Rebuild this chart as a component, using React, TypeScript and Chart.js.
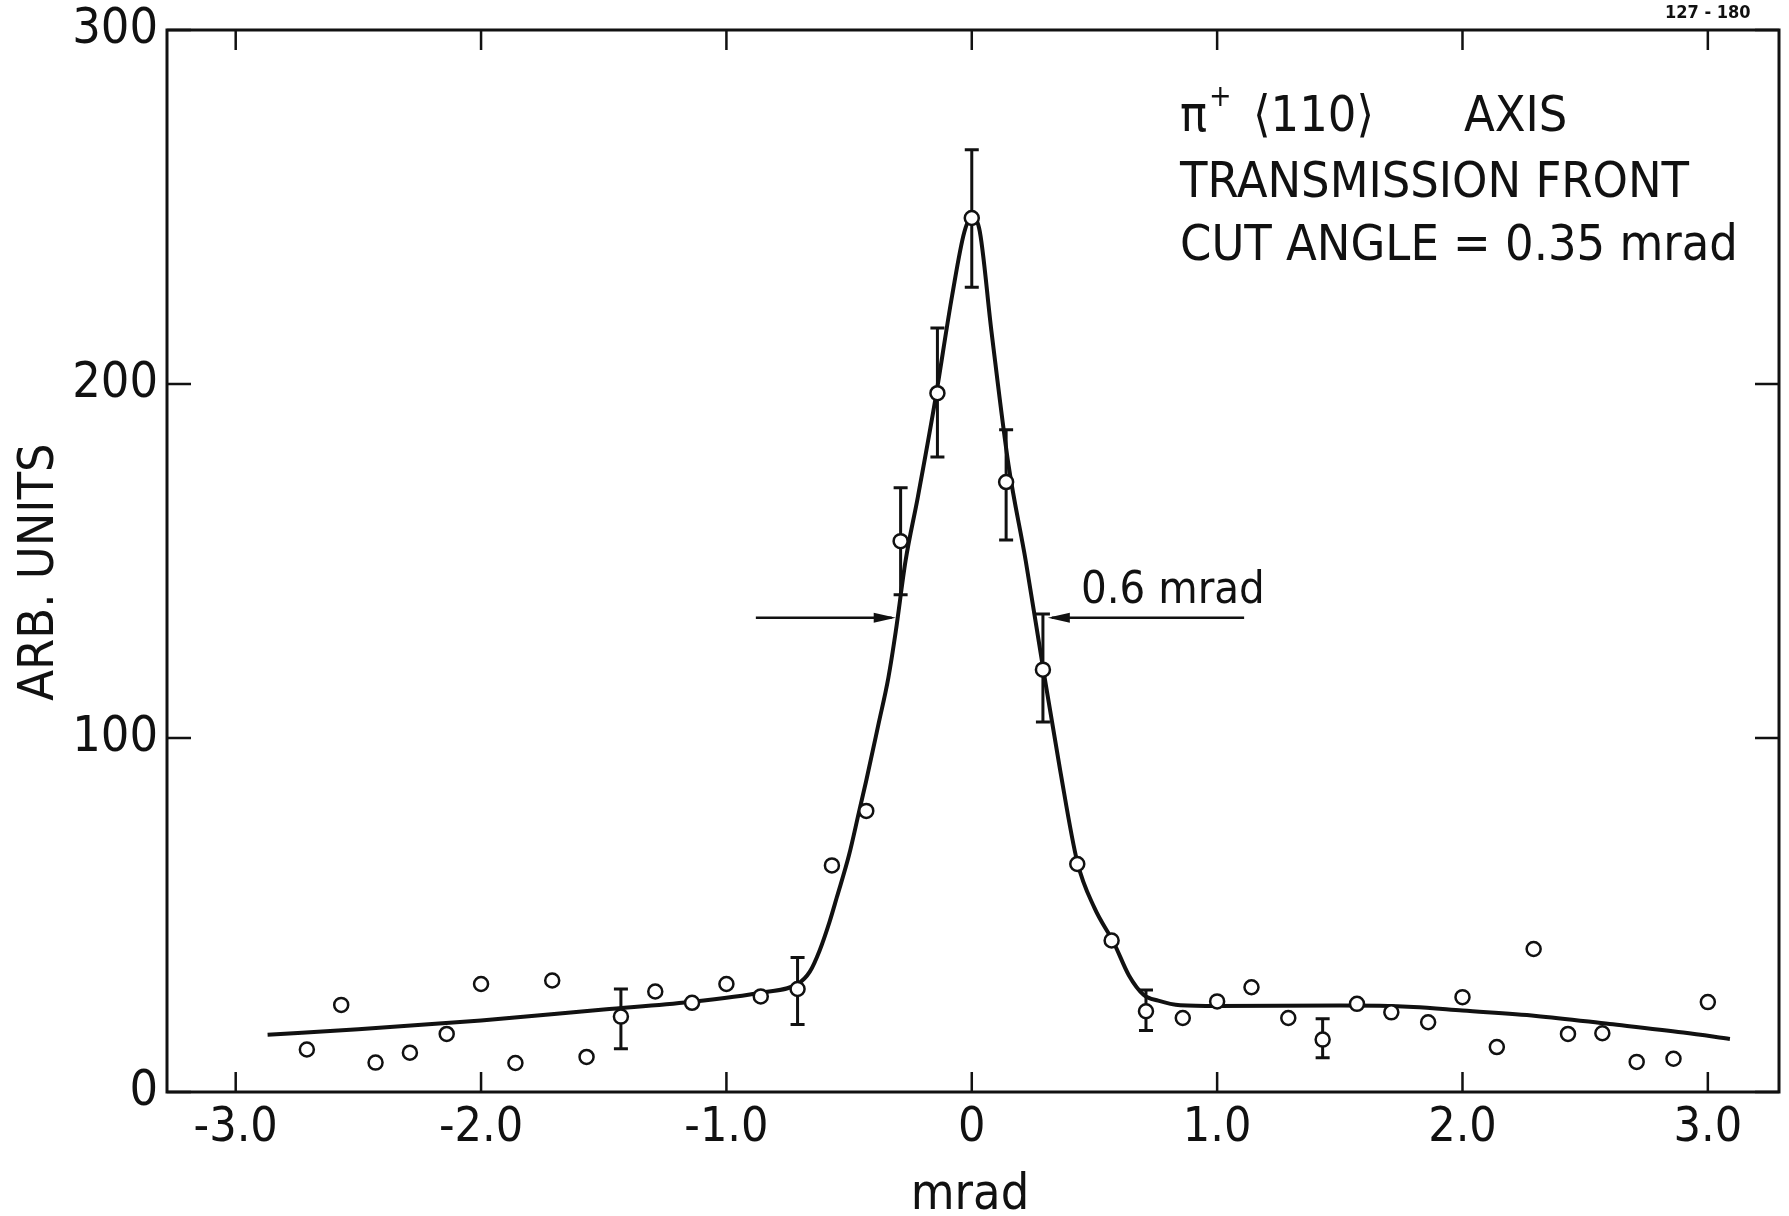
import React, { useEffect, useRef } from "react";
import { Chart, registerables } from "chart.js";

Chart.register(...registerables);

// Measured data points (mrad, arb. units)
const pointX = [-2.71, -2.57, -2.43, -2.29, -2.14, -2.0, -1.86, -1.71, -1.57, -1.43, -1.29, -1.14, -1.0, -0.86, -0.71, -0.57, -0.43, -0.29, -0.14, 0.0, 0.14, 0.29, 0.43, 0.57, 0.71, 0.86, 1.0, 1.14, 1.29, 1.43, 1.57, 1.71, 1.86, 2.0, 2.14, 2.29, 2.43, 2.57, 2.71, 2.86, 3.0];
const pointY = [12.0, 24.6, 8.3, 11.1, 16.4, 30.5, 8.2, 31.5, 9.9, 21.3, 28.4, 25.2, 30.5, 27.0, 29.1, 64.0, 79.4, 155.6, 197.4, 246.9, 172.3, 119.3, 64.4, 42.8, 22.8, 20.9, 25.6, 29.6, 20.9, 14.8, 24.9, 22.5, 19.7, 26.8, 12.7, 40.4, 16.4, 16.6, 8.5, 9.4, 25.4];

// Error bars
const errX = [-1.43, -0.71, -0.29, -0.14, 0.0, 0.14, 0.29, 0.71, 1.43];
const errLow = [12.2, 19.1, 140.5, 179.4, 227.3, 155.9, 104.5, 17.4, 9.7];
const errHigh = [29.1, 38.0, 170.7, 215.8, 266.2, 187.1, 135.0, 28.8, 20.7];

// Fitted curve
const curveX = [-2.87, -2.5, -2.0, -1.5, -1.15, -0.85, -0.71, -0.66, -0.62, -0.58, -0.55, -0.5, -0.46, -0.43, -0.38, -0.34, -0.31, -0.27, -0.22, -0.15, -0.08, -0.03, 0.0, 0.03, 0.08, 0.15, 0.22, 0.29, 0.36, 0.43, 0.5, 0.58, 0.64, 0.7, 0.76, 0.85, 1.0, 1.5, 1.8, 2.0, 2.3, 2.6, 2.9, 3.09];
const curveY = [16.2, 17.7, 20.2, 23.3, 25.4, 28.2, 30.5, 34, 40, 48, 55, 67, 79, 88, 104, 117, 130, 150, 168, 195, 225, 243, 247, 244, 215, 177, 150, 120, 91, 65, 52, 42, 33, 27.5, 25.8, 24.5, 24.3, 24.4, 24, 23, 21.5, 19.2, 16.8, 15];

// Axes
const xTickValues = [-3, -2, -1, 0, 1, 2, 3];
const yTickValues = [0, 100, 200, 300];
const xRange = [-3.28, 3.29];
const yRange = [0, 300];
const xTitle = "mrad";
const yTitle = "ARB. UNITS";

// Annotations
const titleLine1a = "π";
const titleLine1sup = "+";
const titleLine1b = "⟨110⟩";
const titleLine1c = "AXIS";
const titleLine2 = "TRANSMISSION FRONT";
const titleLine3 = "CUT ANGLE = 0.35 mrad";
const fwhmLabel = "0.6 mrad";
const fwhmLevel = 134;
const fwhmEdges = [-0.31, 0.31];
const fwhmTails = [-0.88, 1.11];
const figId = "127 - 180";

const INK = "#111111";
const FONT = "'DejaVu Sans Condensed', 'DejaVu Sans', sans-serif";

const decor = {
  id: "decor",
  beforeDatasetsDraw(chart: any) {
    const { ctx, scales } = chart;
    const x = scales.x;
    const y = scales.y;
    ctx.save();
    ctx.strokeStyle = INK;
    ctx.lineWidth = 3;
    ctx.beginPath();
    errX.forEach((v, i) => {
      const px = x.getPixelForValue(v);
      const lo = y.getPixelForValue(errLow[i]);
      const hi = y.getPixelForValue(errHigh[i]);
      ctx.moveTo(px, lo);
      ctx.lineTo(px, hi);
      ctx.moveTo(px - 7, lo);
      ctx.lineTo(px + 7, lo);
      ctx.moveTo(px - 7, hi);
      ctx.lineTo(px + 7, hi);
    });
    ctx.stroke();
    ctx.restore();
  },
  afterDraw(chart: any) {
    const { ctx, chartArea: a, scales } = chart;
    const x = scales.x;
    const y = scales.y;
    ctx.save();
    ctx.strokeStyle = INK;
    ctx.fillStyle = INK;
    ctx.lineWidth = 3;
    ctx.strokeRect(a.left, a.top, a.right - a.left, a.bottom - a.top);
    ctx.lineWidth = 2.5;
    ctx.beginPath();
    xTickValues.forEach((v) => {
      const px = x.getPixelForValue(v);
      ctx.moveTo(px, a.bottom);
      ctx.lineTo(px, a.bottom - 20);
      ctx.moveTo(px, a.top);
      ctx.lineTo(px, a.top + 20);
    });
    yTickValues.forEach((v) => {
      const py = y.getPixelForValue(v);
      ctx.moveTo(a.left, py);
      ctx.lineTo(a.left + 24, py);
      ctx.moveTo(a.right, py);
      ctx.lineTo(a.right - 24, py);
    });
    ctx.stroke();

    // FWHM arrows
    const ay = y.getPixelForValue(fwhmLevel);
    const lTip = x.getPixelForValue(fwhmEdges[0]);
    const rTip = x.getPixelForValue(fwhmEdges[1]);
    const lTail = x.getPixelForValue(fwhmTails[0]);
    const rTail = x.getPixelForValue(fwhmTails[1]);
    ctx.lineWidth = 2.5;
    ctx.beginPath();
    ctx.moveTo(lTail, ay);
    ctx.lineTo(lTip - 4, ay);
    ctx.moveTo(rTail, ay);
    ctx.lineTo(rTip + 4, ay);
    ctx.stroke();
    ctx.beginPath();
    ctx.moveTo(lTip, ay);
    ctx.lineTo(lTip - 22, ay - 5);
    ctx.lineTo(lTip - 22, ay + 5);
    ctx.closePath();
    ctx.moveTo(rTip, ay);
    ctx.lineTo(rTip + 22, ay - 5);
    ctx.lineTo(rTip + 22, ay + 5);
    ctx.closePath();
    ctx.fill();

    // Texts
    ctx.textBaseline = "middle";
    ctx.textAlign = "left";
    ctx.font = `50px ${FONT}`;
    ctx.fillText(titleLine1a, 1180, 118);
    ctx.font = `30px ${FONT}`;
    ctx.fillText(titleLine1sup, 1209, 98);
    ctx.font = `50px ${FONT}`;
    ctx.fillText(titleLine1b, 1253, 118);
    ctx.fillText(titleLine1c, 1464, 118);
    ctx.fillText(titleLine2, 1180, 184);
    ctx.fillText(titleLine3, 1180, 247);
    ctx.font = `45px ${FONT}`;
    ctx.fillText(fwhmLabel, 1081, 591);

    ctx.font = `bold 18px ${FONT}`;
    ctx.fillText(figId, 1665, 13);

    ctx.font = `50px ${FONT}`;
    ctx.textAlign = "center";
    ctx.fillText(xTitle, 970, 1196);
    ctx.translate(40, 572);
    ctx.rotate(-Math.PI / 2);
    ctx.fillText(yTitle, 0, 0);
    ctx.restore();
  },
};

export default function App() {
  const ref = useRef<HTMLCanvasElement>(null);
  useEffect(() => {
    document.body.style.margin = "0";
    const chart = new Chart(ref.current as HTMLCanvasElement, {
      type: "scatter",
      data: {
        datasets: [
          {
            type: "scatter",
            data: pointX.map((v, i) => ({ x: v, y: pointY[i] })),
            pointRadius: 7,
            pointBorderWidth: 2.5,
            pointBackgroundColor: "#ffffff",
            pointBorderColor: INK,
            showLine: false,
          } as any,
          {
            type: "line",
            data: curveX.map((v, i) => ({ x: v, y: curveY[i] })),
            borderColor: INK,
            borderWidth: 4,
            pointRadius: 0,
            cubicInterpolationMode: "monotone",
            fill: false,
          } as any,
        ],
      },
      options: {
        responsive: false,
        animation: false,
        layout: { padding: { top: 30, right: 10, left: 0, bottom: 0 } },
        plugins: { legend: { display: false }, tooltip: { enabled: false } },
        scales: {
          x: {
            type: "linear",
            min: xRange[0],
            max: xRange[1],
            afterBuildTicks: (s: any) => {
              s.ticks = xTickValues.map((v) => ({ value: v }));
            },
            afterFit: (s: any) => {
              s.height = 124;
              s.paddingLeft = 0;
              s.paddingRight = 0;
              s.paddingTop = 0;
              s.paddingBottom = 0;
            },
            grid: { display: false, drawTicks: false },
            border: { display: false },
            ticks: {
              font: { family: FONT, size: 48 },
              color: INK,
              padding: 8,
              maxRotation: 0,
              autoSkip: false,
              callback: (v: any) => (Number(v) === 0 ? "0" : Number(v).toFixed(1)),
            },
          },
          y: {
            type: "linear",
            min: yRange[0],
            max: yRange[1],
            afterBuildTicks: (s: any) => {
              s.ticks = yTickValues.map((v) => ({ value: v }));
            },
            afterFit: (s: any) => {
              s.width = 167;
              s.paddingLeft = 0;
              s.paddingRight = 0;
              s.paddingTop = 0;
              s.paddingBottom = 0;
            },
            grid: { display: false, drawTicks: false },
            border: { display: false },
            ticks: {
              font: { family: FONT, size: 50 },
              color: INK,
              padding: 9,
              autoSkip: false,
              callback: (v: any) => String(v),
            },
          },
        },
      },
      plugins: [decor],
    });
    return () => chart.destroy();
  }, []);
  return <canvas ref={ref} width={1789} height={1216} style={{ display: "block" }} />;
}
